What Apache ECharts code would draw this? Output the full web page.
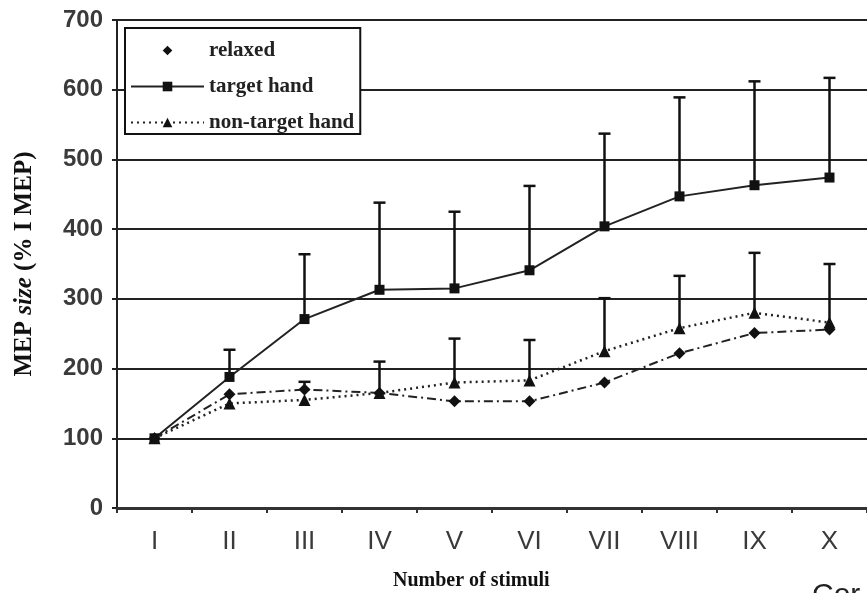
<!DOCTYPE html>
<html>
<head>
<meta charset="utf-8">
<script src="https://cdn.jsdelivr.net/npm/echarts@6/dist/echarts.min.js"></script>
<style>html,body{margin:0;padding:0;background:#fff;}#c{width:867px;height:593px;}</style>
</head>
<body>
<div id="c"></div>
<script>
var categories = ['I','II','III','IV','V','VI','VII','VIII','IX','X'];
var yTicks = [0,100,200,300,400,500,600,700];
var relaxed = [100,163,170,165,153,153,180,222,251,256];
var targetHand = [100,188,271,313,315,341,404,447,463,474];
var nonTargetHand = [100,150,155,165,180,183,225,258,280,266];
var relaxedErrTop = [null,null,181,null,null,null,null,null,null,null];
var targetErrTop = [null,227,364,438,425,462,537,589,612,617];
var nonTargetErrTop = [null,null,null,210,243,241,301,333,366,350];

function errData(means, tops){
  var out = [];
  for (var i=0;i<means.length;i++){ if (tops[i]!=null) out.push([i, means[i], tops[i]]); }
  return out;
}
function renderErr(params, api){
  var x = api.value(0), lo = api.value(1), hi = api.value(2);
  var p0 = api.coord([x, lo]), p1 = api.coord([x, hi]);
  var st = {stroke:'#111', lineWidth:2.5};
  return {type:'group', children:[
    {type:'line', shape:{x1:p0[0],y1:p0[1],x2:p1[0],y2:p1[1]}, style:st},
    {type:'line', shape:{x1:p1[0]-6,y1:p1[1],x2:p1[0]+6,y2:p1[1]}, style:st}
  ]};
}

var chart = echarts.init(document.getElementById('c'));
chart.setOption({
  animation:false,
  backgroundColor:'#fff',
  grid:{left:117, top:20, width:765, height:488},
  legend:{
    orient:'vertical', left:125, top:28,
    padding:[12,6,1,5], itemGap:15, itemWidth:73, itemHeight:12,
    backgroundColor:'#fff', borderColor:'#111', borderWidth:2,
    textStyle:{fontFamily:'Liberation Serif', fontWeight:'bold', fontSize:21, color:'#222'},
    data:[
      {name:'relaxed', lineStyle:{opacity:0}},
      {name:'target hand'},
      {name:'non-target hand'}
    ]
  },
  xAxis:{
    type:'category', data:categories, boundaryGap:true,
    axisLine:{lineStyle:{color:'#333', width:3}},
    axisTick:{show:true, length:5, lineStyle:{color:'#333', width:2}},
    axisLabel:{margin:21, fontFamily:'Liberation Sans', fontSize:26, color:'#3a3a3a'}
  },
  yAxis:{
    type:'value', min:0, max:700, interval:100,
    name:'{b|MEP }{i|size}{b| (% I MEP)}', nameLocation:'middle', nameGap:80, nameRotate:90,
    nameTextStyle:{rich:{
      b:{fontFamily:'Liberation Serif', fontWeight:'bold', fontSize:25, color:'#111'},
      i:{fontFamily:'Liberation Serif', fontWeight:'bold', fontStyle:'italic', fontSize:25, color:'#111'}
    }},
    axisLine:{show:true, lineStyle:{color:'#222', width:2}},
    axisTick:{show:true, length:5, lineStyle:{color:'#222', width:2}},
    axisLabel:{margin:14, fontFamily:'Liberation Sans', fontWeight:'bold', fontSize:24, color:'#3a3a3a',
      formatter:function(v){ return yTicks.indexOf(v)>=0 ? String(v) : ''; }},
    splitLine:{show:true, lineStyle:{color:'#222', width:2}}
  },
  graphic:[
    {type:'text', left:393, top:571, style:{text:'Number of stimuli', font:'bold 20px "Liberation Serif"', fill:'#111'}},
    {type:'text', left:812, top:581, style:{text:'Cor', font:'30px "Liberation Sans"', fill:'#222'}}
  ],
  series:[
    {type:'custom', name:'errT', renderItem:renderErr, data:errData(targetHand,targetErrTop), z:1, silent:true},
    {type:'custom', name:'errN', renderItem:renderErr, data:errData(nonTargetHand,nonTargetErrTop), z:1, silent:true},
    {type:'custom', name:'errR', renderItem:renderErr, data:errData(relaxed,relaxedErrTop), z:1, silent:true},
    {type:'line', name:'relaxed', data:relaxed, symbol:'diamond', symbolSize:12,
      itemStyle:{color:'#111'}, lineStyle:{color:'#222', width:2, type:[9,4,2,4]}, z:3},
    {type:'line', name:'target hand', data:targetHand, symbol:'rect', symbolSize:10,
      itemStyle:{color:'#111'}, lineStyle:{color:'#222', width:2, type:'solid'}, z:3},
    {type:'line', name:'non-target hand', data:nonTargetHand, symbol:'triangle', symbolSize:12,
      itemStyle:{color:'#111'}, lineStyle:{color:'#222', width:2.5, type:[2,4]}, z:3}
  ]
});
</script>
</body>
</html>
